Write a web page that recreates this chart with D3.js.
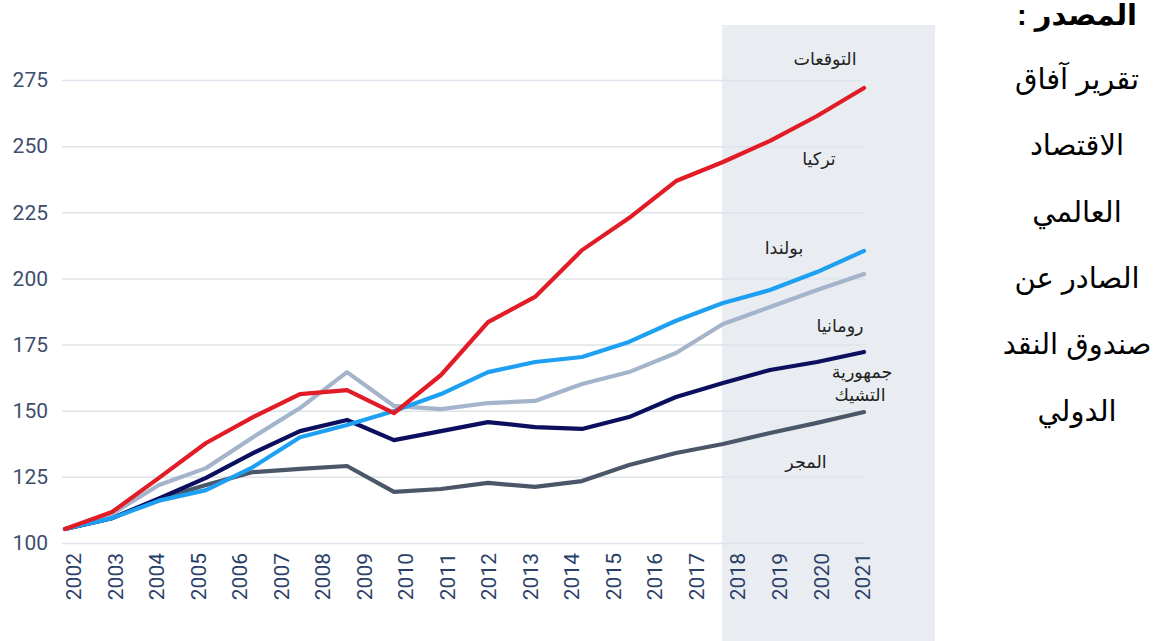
<!DOCTYPE html>
<html>
<head>
<meta charset="utf-8">
<script src="https://cdn.jsdelivr.net/npm/d3@7"></script>
<style>
  body { margin: 0; background: #fff; }
  svg { display: block; }
  .axis text { font-family: Roboto, "Liberation Sans", sans-serif; }
  .ar { font-family: "Liberation Sans", "DejaVu Sans", sans-serif; direction: rtl; unicode-bidi: embed; }
</style>
</head>
<body>
<script>
// year labels along the bottom
var years = ["2002","2003","2004","2005","2006","2007","2008","2009","2010","2011",
             "2012","2013","2014","2015","2016","2017","2018","2019","2020","2021"];
var yTicks = [100, 125, 150, 175, 200, 225, 250, 275];

// series values (18 points each)
var turkey  = [105.3, 111.7, 124.6, 137.8, 147.6, 156.3, 157.8, 149.1, 163.5, 183.5, 193.0, 210.7, 222.8, 236.8, 244.0, 252.0, 261.4, 272.0];
var poland  = [105.3, 109.4, 116.0, 120.0, 128.7, 140.0, 144.6, 149.9, 156.3, 164.6, 168.4, 170.3, 176.0, 184.0, 190.7, 195.6, 202.4, 210.4];
var romania = [105.3, 111.0, 121.9, 128.3, 140.0, 151.0, 164.6, 151.8, 150.6, 152.9, 153.7, 160.1, 164.6, 171.8, 182.8, 189.2, 195.6, 201.7];
var czech   = [105.3, 109.4, 116.8, 124.6, 134.0, 142.3, 146.5, 138.9, 142.3, 145.7, 143.8, 143.1, 147.6, 155.2, 160.5, 165.4, 168.4, 172.2];
var hungary = [105.3, 109.4, 116.6, 121.9, 126.8, 128.0, 129.1, 119.3, 120.4, 122.7, 121.2, 123.4, 129.5, 134.0, 137.4, 141.6, 145.4, 149.5];

var seriesValues = [hungary, czech, romania, poland, turkey];
var seriesColors = ["#4b5768", "#0b0f5e", "#a3b4cb", "#1ea0f2", "#e21c26"];

var sourceTitle = "المصدر :";
var sourceLines = ["تقرير آفاق", "الاقتصاد", "العالمي", "الصادر عن", "صندوق النقد", "الدولي"];

var width = 1161, height = 641;

var svg = d3.select("body").append("svg")
  .attr("width", width)
  .attr("height", height);

// scales
var y = d3.scaleLinear().domain([100, 275]).range([543, 80]);
var xLab = d3.scalePoint().domain(years).range([73, 862]);
var x = d3.scaleLinear().domain([0, turkey.length - 1]).range([65, 864]);

// forecast shading
svg.append("rect")
  .attr("x", 722).attr("y", 25)
  .attr("width", 213).attr("height", height - 25)
  .attr("fill", "#e9edf2");

// y axis + grid
var yAxis = d3.axisLeft(y)
  .tickValues(yTicks)
  .tickSize(-(865 - 62))
  .tickPadding(14);

var gy = svg.append("g")
  .attr("class", "axis")
  .attr("transform", "translate(62,0)")
  .call(yAxis);
gy.select(".domain").remove();
gy.selectAll("line").attr("stroke", "#dde3ea").attr("stroke-width", 1.5);
gy.selectAll("text")
  .attr("fill", "#3f4e6c")
  .style("font-size", "21px");

// x axis labels
var xAxis = d3.axisBottom(xLab).tickSize(0);
var gx = svg.append("g")
  .attr("class", "axis")
  .attr("transform", "translate(0,543)")
  .call(xAxis);
gx.select(".domain").remove();
gx.selectAll("text")
  .attr("transform", "rotate(-90)")
  .attr("text-anchor", "end")
  .attr("x", -10)
  .attr("y", 0)
  .attr("dy", "0.36em")
  .attr("fill", "#2b4068")
  .style("font-size", "21px");

// lines
var line = d3.line()
  .x(function(d, i) { return x(i); })
  .y(function(d) { return y(d); });

svg.append("g").selectAll("path")
  .data(seriesValues)
  .enter().append("path")
  .attr("d", line)
  .attr("fill", "none")
  .attr("stroke", function(d, i) { return seriesColors[i]; })
  .attr("stroke-width", 4.2)
  .attr("stroke-linejoin", "round")
  .attr("stroke-linecap", "round");

// labels inside the chart
var labels = [
  {t: "التوقعات", x: 825, y: 65},
  {t: "تركيا", x: 819, y: 165},
  {t: "بولندا", x: 784, y: 254},
  {t: "رومانيا", x: 840, y: 332},
  {t: "جمهورية", x: 862, y: 378},
  {t: "التشيك", x: 860, y: 401},
  {t: "المجر", x: 806, y: 468}
];
svg.append("g").selectAll("text")
  .data(labels)
  .enter().append("text")
  .attr("class", "ar")
  .attr("x", function(d) { return d.x; })
  .attr("y", function(d) { return d.y; })
  .attr("text-anchor", "middle")
  .attr("fill", "#222")
  .style("font-size", "17.5px")
  .text(function(d) { return d.t; });

// source note on the right
svg.append("text")
  .attr("class", "ar")
  .attr("x", 1077).attr("y", 25)
  .attr("text-anchor", "middle")
  .attr("fill", "#000")
  .style("font-size", "29px")
  .style("font-weight", "bold")
  .text(sourceTitle);

svg.append("g").selectAll("text")
  .data(sourceLines)
  .enter().append("text")
  .attr("class", "ar")
  .attr("x", 1077)
  .attr("y", function(d, i) { return 89 + i * 66.3; })
  .attr("text-anchor", "middle")
  .attr("fill", "#000")
  .style("font-size", "29px")
  .text(function(d) { return d; });
</script>
</body>
</html>
